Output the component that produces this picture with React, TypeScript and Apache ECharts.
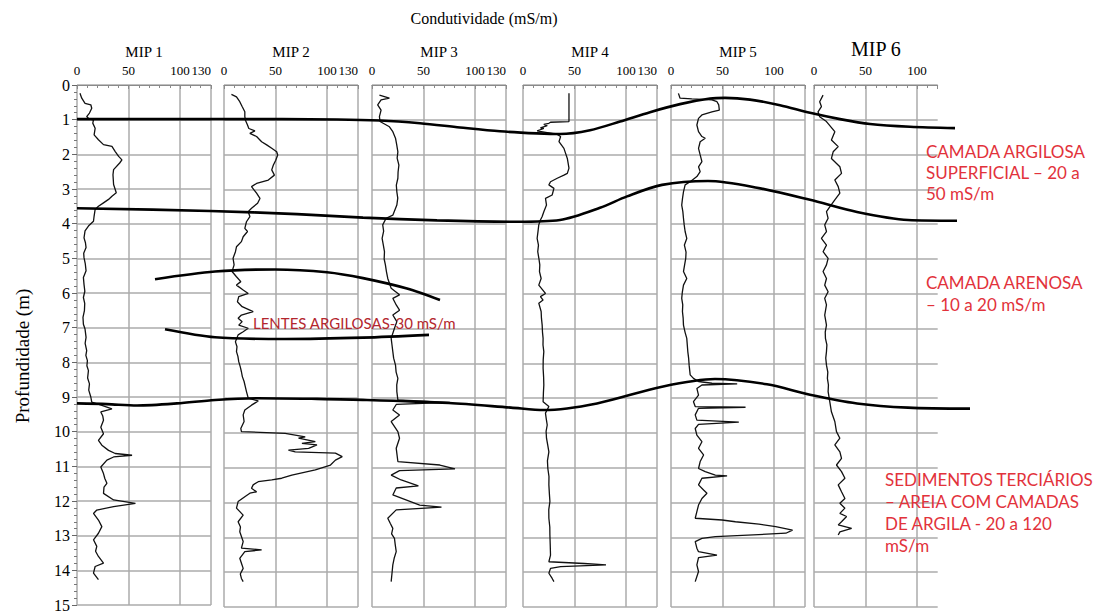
import { useEffect, useRef } from "react";
import * as echarts from "echarts";

// ---- Data -------------------------------------------------------------
// Each log: [depth (m), conductivity (mS/m)]
const PANEL_NAMES = ["MIP 1", "MIP 2", "MIP 3", "MIP 4", "MIP 5", "MIP 6"];
const PANEL_MAX = [130, 130, 130, 130, 130, 120];
const DEPTH_MAX = 15;

const MIP1: [number, number][] = [
  [0.24, 2.9], [0.38, 4.6], [0.53, 7.8], [0.57, 13.4], [0.67, 14.3], [0.81, 12.1], [0.91, 9.4], [0.96, 11.1],
  [1.01, 16.0], [1.1, 15.3], [1.25, 17.6], [1.44, 16.6], [1.58, 20.8], [1.72, 25.7], [1.77, 33.9], [1.92, 37.1],
  [2.06, 40.4], [2.16, 43.6], [2.25, 41.4], [2.44, 35.5], [2.59, 34.9], [2.87, 35.5], [3.11, 38.1], [3.21, 33.9],
  [3.3, 30.6], [3.4, 25.7], [3.5, 20.8], [3.59, 17.6], [3.78, 16.6], [3.93, 16.0], [4.07, 11.1], [4.21, 7.8],
  [4.41, 6.8], [4.55, 8.2], [4.69, 8.8], [4.85, 6.5], [4.98, 6.8], [5.15, 8.0], [5.36, 8.8], [5.55, 6.2],
  [5.75, 6.8], [5.95, 7.6], [6.13, 6.2], [6.3, 7.5], [6.51, 7.2], [6.7, 5.8], [6.9, 6.2], [7.04, 7.8],
  [7.28, 8.8], [7.45, 7.9], [7.66, 9.4], [7.8, 8.6], [7.95, 10.1], [8.1, 9.6], [8.24, 11.1], [8.45, 10.3],
  [8.62, 12.1], [8.8, 11.4], [9.0, 13.4], [9.15, 14.3], [9.24, 24.1], [9.34, 33.9], [9.43, 23.1], [9.55, 25.0],
  [9.67, 25.7], [9.87, 23.1], [10.06, 25.7], [10.25, 20.8], [10.39, 24.1], [10.54, 30.6], [10.63, 37.1],
  [10.68, 53.4], [10.73, 35.5], [10.82, 29.0], [11.02, 23.1], [11.21, 25.7], [11.35, 27.0], [11.49, 29.0],
  [11.6, 26.2], [11.78, 25.7], [11.97, 35.5], [12.07, 56.7], [12.16, 35.5], [12.26, 19.2], [12.36, 16.0],
  [12.55, 20.8], [12.74, 24.1], [12.93, 20.8], [13.12, 16.0], [13.31, 19.2], [13.45, 18.0], [13.6, 20.8],
  [13.79, 25.7], [13.89, 17.6], [14.08, 16.0], [14.27, 20.8],
];

const MIP2: [number, number][] = [
  [0.27, 7.2], [0.34, 12.1], [0.48, 15.3], [0.62, 17.6], [0.77, 20.2], [0.91, 20.2], [1.01, 20.8], [1.15, 22.8],
  [1.25, 24.1], [1.32, 30.0], [1.39, 25.1], [1.48, 31.6], [1.63, 36.5], [1.72, 41.4], [1.82, 46.3], [1.92, 51.1],
  [2.01, 52.1], [2.16, 50.2], [2.3, 47.9], [2.44, 46.3], [2.59, 48.9], [2.73, 43.0], [2.83, 31.6], [2.92, 26.7],
  [3.11, 31.6], [3.26, 34.9], [3.4, 32.6], [3.54, 26.7], [3.64, 23.5], [3.78, 25.1], [3.93, 21.8], [4.12, 20.2],
  [4.21, 22.8], [4.36, 18.6], [4.5, 16.9], [4.65, 12.1], [4.79, 11.1], [4.98, 8.8], [5.17, 9.8], [5.36, 7.8],
  [5.51, 12.1], [5.65, 16.3], [5.75, 12.1], [5.89, 18.6], [5.99, 23.5], [6.08, 14.3], [6.23, 13.0], [6.37, 17.6],
  [6.51, 28.3], [6.61, 16.9], [6.7, 13.7], [6.8, 17.6], [6.9, 14.3], [6.99, 23.5], [7.09, 18.6], [7.18, 13.7],
  [7.38, 11.1], [7.52, 12.6], [7.66, 12.1], [7.8, 13.5], [7.95, 14.3], [8.1, 15.8], [8.24, 16.9], [8.38, 17.8],
  [8.52, 19.5], [8.66, 20.6], [8.81, 21.8], [9.0, 23.5], [9.08, 33.2], [9.2, 26.7], [9.34, 20.2], [9.48, 18.6],
  [9.67, 19.5], [9.87, 16.3], [9.96, 16.9], [10.01, 59.3], [10.11, 78.8], [10.15, 72.3], [10.25, 88.6],
  [10.3, 75.6], [10.34, 90.2], [10.44, 82.1], [10.49, 62.5], [10.54, 69.1], [10.58, 108.1], [10.68, 114.7],
  [10.78, 108.1], [10.92, 103.3], [11.06, 88.6], [11.21, 65.8], [11.3, 56.0], [11.35, 46.3], [11.4, 33.2],
  [11.49, 28.3], [11.59, 26.7], [11.69, 31.6], [11.73, 25.1], [11.83, 20.2], [11.97, 13.7], [12.16, 12.1],
  [12.36, 18.6], [12.55, 13.7], [12.7, 16.0], [12.84, 15.3], [13.12, 18.6], [13.31, 16.9], [13.36, 36.5],
  [13.41, 20.2], [13.6, 15.3], [13.75, 17.0], [13.89, 18.6], [14.05, 15.8], [14.18, 16.9], [14.27, 18.6],
];

const MIP3: [number, number][] = [
  [0.29, 7.2], [0.38, 16.9], [0.43, 8.8], [0.57, 5.5], [0.72, 8.8], [0.91, 7.2], [1.05, 7.8], [1.2, 16.9],
  [1.34, 20.2], [1.53, 22.8], [1.72, 24.0], [1.92, 25.1], [2.1, 24.4], [2.3, 26.1], [2.5, 25.3], [2.68, 25.1],
  [2.88, 23.6], [3.07, 24.1], [3.25, 25.0], [3.45, 24.1], [3.74, 20.2], [3.83, 13.7], [4.02, 10.4], [4.2, 11.3],
  [4.41, 9.8], [4.6, 11.0], [4.79, 12.1], [5.0, 11.8], [5.17, 13.0], [5.36, 14.0], [5.56, 15.3], [5.84, 18.6],
  [6.03, 26.7], [6.13, 20.2], [6.32, 23.5], [6.47, 26.7], [6.61, 20.2], [6.8, 24.1], [6.99, 21.8], [7.28, 18.6],
  [7.47, 19.4], [7.66, 20.2], [7.85, 21.0], [8.05, 22.8], [8.25, 23.4], [8.43, 25.1], [8.62, 24.0], [8.81, 24.1],
  [9.05, 25.1], [9.12, 75.6], [9.18, 23.5], [9.34, 20.2], [9.48, 26.7], [9.67, 18.6], [9.96, 25.1], [10.15, 26.7],
  [10.44, 23.5], [10.82, 25.1], [10.92, 65.8], [11.03, 80.5], [11.08, 26.7], [11.21, 18.6], [11.35, 28.3],
  [11.52, 45.0], [11.58, 23.5], [11.78, 20.2], [12.07, 46.3], [12.13, 67.4], [12.21, 23.5], [12.45, 15.3],
  [12.6, 17.8], [12.74, 20.2], [12.9, 19.0], [13.03, 21.8], [13.2, 22.5], [13.41, 23.5], [13.6, 21.5],
  [13.79, 20.2], [14.0, 19.5], [14.27, 18.6],
];

const MIP4: [number, number][] = [
  [0.24, 44.6], [1.05, 44.6], [1.07, 26.7], [1.1, 25.1], [1.13, 20.2], [1.17, 23.5], [1.23, 16.9], [1.25, 20.2],
  [1.32, 13.7], [1.42, 33.2], [1.48, 36.5], [1.63, 34.9], [1.82, 39.7], [2.11, 43.0], [2.39, 44.6], [2.54, 43.0],
  [2.59, 39.7], [2.68, 33.2], [2.78, 26.7], [2.87, 25.1], [2.97, 30.0], [3.16, 28.3], [3.26, 21.8], [3.45, 22.8],
  [3.64, 20.2], [3.78, 18.6], [3.88, 16.9], [4.02, 15.3], [4.2, 14.6], [4.41, 13.7], [4.6, 15.0], [4.79, 14.3],
  [5.0, 15.5], [5.17, 16.3], [5.36, 16.0], [5.56, 17.6], [5.75, 15.3], [5.99, 21.8], [6.08, 16.9], [6.18, 19.5],
  [6.27, 15.3], [6.51, 17.6], [6.7, 17.9], [6.9, 18.6], [7.1, 18.9], [7.28, 19.5], [7.47, 19.4], [7.66, 20.2],
  [7.9, 19.6], [8.14, 19.5], [8.4, 20.0], [8.62, 20.2], [8.85, 19.8], [9.1, 19.5], [9.24, 25.1], [9.43, 21.8],
  [9.6, 22.6], [9.77, 23.5], [9.95, 22.4], [10.15, 22.8], [10.35, 24.0], [10.54, 25.1], [10.8, 23.7],
  [11.02, 24.1], [11.25, 25.2], [11.49, 25.1], [11.75, 25.6], [11.97, 26.1], [12.2, 25.0], [12.45, 25.1],
  [12.7, 26.0], [12.93, 26.1], [13.2, 26.4], [13.51, 26.7], [13.7, 25.1], [13.75, 59.3], [13.79, 80.5],
  [13.84, 36.5], [13.89, 26.7], [14.03, 25.1], [14.18, 28.3], [14.27, 30.0],
];

const MIP5: [number, number][] = [
  [0.24, 7.2], [0.38, 8.8], [0.4, 20.2], [0.43, 39.7], [0.48, 44.6], [0.57, 46.3], [0.72, 46.9], [0.77, 39.7],
  [0.86, 30.0], [0.96, 26.7], [1.15, 25.1], [1.34, 26.7], [1.48, 30.0], [1.53, 33.2], [1.63, 28.3], [1.82, 26.7],
  [2.01, 28.3], [2.2, 30.0], [2.35, 26.7], [2.49, 28.3], [2.63, 25.1], [2.78, 18.6], [2.87, 13.7], [3.07, 12.1],
  [3.25, 11.2], [3.45, 10.4], [3.64, 11.5], [3.83, 12.1], [4.02, 12.8], [4.21, 13.7], [4.41, 15.3], [4.6, 13.0],
  [4.8, 14.6], [4.98, 14.3], [5.17, 13.2], [5.36, 12.1], [5.56, 15.3], [5.75, 12.1], [5.95, 11.0], [6.13, 10.4],
  [6.32, 11.4], [6.51, 11.1], [6.7, 11.8], [6.9, 12.1], [7.1, 13.6], [7.28, 15.3], [7.47, 15.8], [7.66, 16.3],
  [7.85, 17.1], [8.05, 17.6], [8.33, 18.6], [8.43, 21.8], [8.52, 26.7], [8.57, 39.7], [8.59, 64.2], [8.62, 30.0],
  [8.72, 25.1], [8.91, 26.7], [9.1, 21.8], [9.24, 23.5], [9.26, 72.3], [9.29, 26.7], [9.48, 23.5], [9.63, 25.1],
  [9.69, 65.8], [9.75, 26.7], [9.87, 23.5], [10.06, 25.1], [10.25, 30.0], [10.44, 26.7], [10.63, 31.6],
  [10.82, 28.3], [11.02, 26.7], [11.11, 33.2], [11.21, 43.0], [11.23, 54.4], [11.3, 30.0], [11.49, 26.7],
  [11.64, 31.6], [11.73, 34.9], [11.88, 30.0], [12.07, 26.7], [12.26, 25.1], [12.45, 23.5], [12.5, 49.5],
  [12.55, 62.5], [12.62, 85.3], [12.69, 101.6], [12.79, 117.9], [12.88, 111.4], [12.98, 43.0], [13.03, 30.0],
  [13.12, 23.5], [13.31, 25.1], [13.41, 26.7], [13.51, 44.6], [13.58, 26.7], [13.79, 25.1], [13.98, 26.7],
  [14.27, 23.5],
];

const MIP6: [number, number][] = [
  [0.29, 8.8], [0.48, 5.5], [0.62, 7.2], [0.77, 3.9], [0.91, 5.5], [1.05, 12.1], [1.34, 20.2], [1.58, 16.9],
  [1.77, 23.5], [1.92, 18.6], [2.11, 16.9], [2.35, 25.1], [2.54, 26.7], [2.73, 20.2], [2.92, 23.5], [3.11, 25.1],
  [3.3, 20.2], [3.5, 15.3], [3.64, 12.1], [3.83, 13.7], [4.02, 10.4], [4.21, 12.1], [4.41, 7.2], [4.6, 12.1],
  [4.79, 8.8], [4.98, 13.7], [5.17, 12.1], [5.36, 8.8], [5.56, 12.1], [5.75, 10.4], [5.94, 13.7], [6.13, 10.4],
  [6.32, 12.1], [6.61, 10.4], [6.9, 12.1], [7.1, 10.9], [7.28, 11.1], [7.47, 12.5], [7.66, 12.1], [7.85, 11.4],
  [8.05, 12.1], [8.25, 13.4], [8.43, 13.0], [8.62, 14.0], [8.81, 13.7], [9.1, 15.3], [9.39, 16.9], [9.67, 20.2],
  [9.96, 21.8], [10.15, 25.1], [10.34, 20.2], [10.54, 25.1], [10.73, 26.7], [10.92, 21.8], [11.11, 26.7],
  [11.3, 30.0], [11.49, 23.5], [11.69, 26.7], [11.88, 30.0], [12.02, 25.1], [12.16, 30.0], [12.31, 25.1],
  [12.4, 31.6], [12.55, 26.7], [12.64, 23.5], [12.69, 30.0], [12.74, 36.5], [12.84, 25.1], [12.93, 23.5],
];

const LOGS = [MIP1, MIP2, MIP3, MIP4, MIP5, MIP6];

// Interpreted layer boundaries: [distance along section, depth (m)]
const BOUNDARY_SURFACE: [number, number][] = [
  [0, 0.98], [150, 0.98], [260, 0.99], [303, 1.02], [343, 1.1], [383, 1.22], [423, 1.33], [460, 1.39],
  [483, 1.41], [513, 1.3], [543, 1.05], [573, 0.78], [603, 0.55], [633, 0.39], [648, 0.37], [673, 0.42],
  [703, 0.58], [733, 0.8], [763, 0.98], [793, 1.12], [833, 1.2], [878, 1.24],
];
const BOUNDARY_SAND_TOP: [number, number][] = [
  [0, 3.54], [133, 3.62], [220, 3.71], [286, 3.81], [360, 3.89], [440, 3.93], [483, 3.88], [523, 3.53],
  [550, 3.2], [585, 2.87], [631, 2.76], [680, 2.95], [733, 3.3], [780, 3.65], [831, 3.88], [880, 3.9],
];
const LENS_TOP: [number, number][] = [
  [78, 5.58], [138, 5.36], [198, 5.3], [250, 5.38], [286, 5.55], [330, 5.85], [363, 6.18],
];
const LENS_BOTTOM: [number, number][] = [
  [88, 7.02], [138, 7.25], [208, 7.3], [286, 7.26], [352, 7.18],
];
const BOUNDARY_TERTIARY: [number, number][] = [
  [0, 9.15], [30, 9.17], [60, 9.21], [100, 9.15], [138, 9.05], [181, 9.0], [240, 9.02], [290, 9.05],
  [372, 9.14], [434, 9.27], [467, 9.34], [520, 9.15], [585, 8.67], [638, 8.45], [690, 8.6], [733, 8.9],
  [780, 9.15], [831, 9.27], [893, 9.3],
];
const BOUNDARIES = [BOUNDARY_SURFACE, BOUNDARY_SAND_TOP, LENS_TOP, LENS_BOTTOM, BOUNDARY_TERTIARY];

// ---- Layout -----------------------------------------------------------
const PANEL_LEFT = [77, 224, 372, 523, 671, 814];
const PX_PER_UNIT = 134 / 130;
const PLOT_TOP = 85;
const PLOT_HEIGHT = 522;
const SECTION_WIDTH = 900;

const SERIF = "Liberation Serif";
const SANS = "Lato";
const RED = "#e2323b";
const GRID = "#ababab";
const AXIS = "#8a8a8a";

export default function App() {
  const ref = useRef<HTMLDivElement>(null);

  useEffect(() => {
    if (!ref.current) return;
    const chart = echarts.init(ref.current, null, { renderer: "svg" });

    const grids: any[] = PANEL_LEFT.map((left, i) => ({
      left,
      top: PLOT_TOP,
      width: PANEL_MAX[i] * PX_PER_UNIT,
      height: PLOT_HEIGHT,
      containLabel: false,
    }));
    grids.push({ left: PANEL_LEFT[0], top: PLOT_TOP, width: SECTION_WIDTH, height: PLOT_HEIGHT });

    const xAxes: any[] = PANEL_NAMES.map((name, i) => ({
      gridIndex: i,
      type: "value",
      position: "top",
      min: 0,
      max: PANEL_MAX[i],
      interval: 50,
      name,
      nameLocation: "middle",
      nameGap: i === 5 ? 25 : 26,
      nameTextStyle: { fontFamily: SERIF, fontSize: i === 5 ? 20 : 15, color: "#000" },
      axisLine: { show: true, lineStyle: { color: AXIS, width: 1 } },
      axisTick: { show: true, inside: true, length: 4, lineStyle: { color: AXIS } },
      minorTick: { show: true, splitNumber: 5, length: 3, lineStyle: { color: AXIS } },
      axisLabel: {
        fontFamily: SERIF,
        fontSize: 13,
        color: "#000",
        margin: 8,
        showMaxLabel: i < 4,
        alignMaxLabel: "right",
      },
      splitLine: {
        show: true,
        lineStyle: {
          color: i === 5 ? [GRID, GRID, GRID, "rgba(0,0,0,0)"] : GRID,
          width: 1.5,
        },
      },
    }));
    xAxes.push({ gridIndex: 6, type: "value", min: 0, max: SECTION_WIDTH, show: false });

    const yAxes: any[] = PANEL_NAMES.map((_, i) => ({
      gridIndex: i,
      type: "value",
      inverse: true,
      min: 0,
      max: DEPTH_MAX,
      interval: 1,
      axisLine: { show: false },
      axisTick: { show: i === 0, length: 5, lineStyle: { color: "#666" } },
      minorTick: { show: i === 0, splitNumber: 5, length: 3, lineStyle: { color: "#777" } },
      axisLabel: { show: i === 0, fontFamily: SERIF, fontSize: 16, color: "#000", margin: 7 },
      splitLine: { show: true, lineStyle: { color: GRID, width: 1.5 } },
    }));
    yAxes.push({ gridIndex: 6, type: "value", inverse: true, min: 0, max: DEPTH_MAX, show: false });

    const logSeries = LOGS.map((log, i) => ({
      type: "line",
      name: PANEL_NAMES[i],
      xAxisIndex: i,
      yAxisIndex: i,
      data: log.map(([depth, value]) => [value, depth]),
      showSymbol: false,
      symbol: "none",
      lineStyle: { color: "#111", width: 1.3 },
      z: 3,
      silent: true,
    }));

    const boundarySeries = BOUNDARIES.map((line) => ({
      type: "line",
      xAxisIndex: 6,
      yAxisIndex: 6,
      data: line,
      smooth: 0.3,
      symbol: "none",
      lineStyle: { color: "#000", width: 2.6 },
      z: 5,
      silent: true,
    }));

    const redText = (text: string, x: number, y: number, size = 17, fill = RED) => ({
      type: "text",
      x,
      y,
      z: 10,
      style: { text, fill, fontFamily: SANS, fontSize: size, textVerticalAlign: "middle", textAlign: "left" },
    });

    chart.setOption({
      animation: false,
      backgroundColor: "#fff",
      grid: grids,
      xAxis: xAxes,
      yAxis: yAxes,
      series: [...logSeries, ...boundarySeries],
      graphic: [
        {
          type: "text",
          x: 484,
          y: 18,
          style: {
            text: "Condutividade (mS/m)",
            fill: "#000",
            fontFamily: SERIF,
            fontSize: 16,
            textAlign: "center",
            textVerticalAlign: "middle",
          },
        },
        {
          type: "text",
          x: 22,
          y: 356,
          rotation: Math.PI / 2,
          style: {
            text: "Profundidade (m)",
            fill: "#000",
            fontFamily: SERIF,
            fontSize: 19,
            textAlign: "center",
            textVerticalAlign: "middle",
          },
        },
        redText("CAMADA ARGILOSA", 926, 151),
        redText("SUPERFICIAL \u2013 20 a", 926, 172),
        redText("50 mS/m", 926, 193),
        redText("CAMADA ARENOSA", 926, 282),
        redText("\u2013 10 a 20 mS/m", 926, 304),
        redText("SEDIMENTOS TERCI\u00C1RIOS", 885, 479),
        redText("\u2013 AREIA COM CAMADAS", 885, 501),
        redText("DE ARGILA - 20 a 120", 885, 523),
        redText("mS/m", 885, 545),
        redText("LENTES ARGILOSAS-30 mS/m", 253, 323, 15, "#b3262d"),
      ],
    });

    return () => chart.dispose();
  }, []);

  return (
    <div
      ref={ref}
      style={{ position: "absolute", left: 0, top: 0, width: 1099, height: 613, background: "#fff" }}
    />
  );
}
